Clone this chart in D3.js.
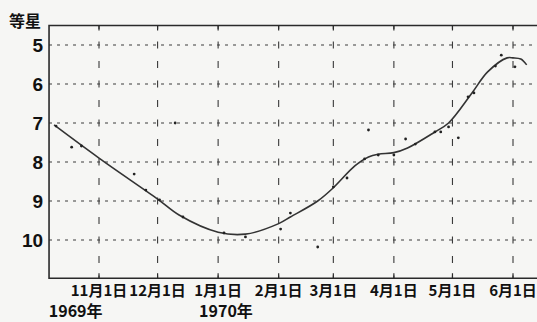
<!DOCTYPE html>
<html>
<head>
<meta charset="utf-8">
<script src="https://cdn.jsdelivr.net/npm/d3@7"></script>
<style>
  body { margin: 0; background: #f6f6f4; }
  svg { display: block; }
  .tickLabel { font-family: "Noto Sans CJK JP", sans-serif; font-weight: bold; font-size: 15px; fill: #111; }
  .magLabel { font-family: "Liberation Sans", Arial, sans-serif; font-weight: bold; font-size: 19px; fill: #111; }
</style>
</head>
<body>
<div id="chart"></div>
<script>
// month ticks on the date axis
const monthTicks = ["1969-11-01", "1969-12-01", "1970-01-01", "1970-02-01", "1970-03-01", "1970-04-01", "1970-05-01", "1970-06-01"];
const monthLabels = ["11月1日", "12月1日", "1月1日", "2月1日", "3月1日", "4月1日", "5月1日", "6月1日"];
const yearDates = ["1969-10-16", "1970-01-01"];
const yearLabels = ["1969年", "1970年"];
const magTicks = [5, 6, 7, 8, 9, 10];

// smoothed light curve (magnitude)
const curveDates = ["1969-10-09", "1969-11-01", "1969-12-01", "1969-12-12", "1970-01-01", "1970-01-15", "1970-02-01",
    "1970-02-07", "1970-02-21", "1970-03-01", "1970-03-12", "1970-03-19", "1970-03-24", "1970-04-01", "1970-04-08",
    "1970-04-22", "1970-04-29", "1970-05-11", "1970-05-19", "1970-05-29", "1970-06-01", "1970-06-05", "1970-06-08"];
const curveMags = [7.05, 7.9, 8.95, 9.36, 9.8, 9.85, 9.58,
    9.41, 9.0, 8.66, 8.1, 7.87, 7.8, 7.76, 7.64,
    7.23, 7.0, 6.23, 5.69, 5.33, 5.33, 5.36, 5.51];

// individual observations
const obsDates = ["1969-10-10", "1969-10-18", "1969-10-23", "1969-11-19", "1969-11-25", "1969-12-02", "1969-12-10",
    "1969-12-14", "1970-01-04", "1970-01-15", "1970-02-02", "1970-02-07", "1970-02-21", "1970-03-01", "1970-03-08",
    "1970-03-17", "1970-03-19", "1970-03-24", "1970-04-01", "1970-04-07", "1970-04-12", "1970-04-22", "1970-04-25",
    "1970-04-29", "1970-05-04", "1970-05-09", "1970-05-12", "1970-05-23", "1970-05-26", "1970-06-02"];
const obsMags = [7.08, 7.62, 7.59, 8.31, 8.72, 8.97, 7.0,
    9.41, 9.82, 9.92, 9.72, 9.31, 10.18, 8.64, 8.41,
    7.92, 7.18, 7.82, 7.82, 7.41, 7.54, 7.23, 7.23,
    7.1, 7.38, 6.33, 6.23, 5.54, 5.26, 5.56];

const parse = d3.timeParse("%Y-%m-%d");
const width = 537, height = 322;

const svg = d3.select("#chart").append("svg")
    .attr("width", width)
    .attr("height", height);

// scales anchored on the grid lines
const x = d3.scaleTime()
    .domain([parse(monthTicks[0]), parse(monthTicks[monthTicks.length - 1])])
    .range([99, 513]);
const y = d3.scaleLinear()
    .domain([5, 10])
    .range([45, 240]);

const plotLeft = x(d3.timeHour.offset(parse(monthTicks[0]), -614));
const plotRight = width;
const plotTop = y(4.5), plotBottom = y(10.98);

const ink = "#2a2a2a";

// horizontal dashed grid
svg.append("g").selectAll("line").data(magTicks).enter().append("line")
    .attr("x1", plotLeft).attr("x2", plotRight)
    .attr("y1", d => y(d)).attr("y2", d => y(d))
    .attr("stroke", "#3a3a3a")
    .attr("stroke-width", 1.1)
    .attr("stroke-dasharray", "3,5");

// vertical dashed grid, dashes centred on the crossings
const period = (y(6) - y(5)) / 2;
const dash = 7;
const firstDash = y(5) - dash / 2 - plotTop;
svg.append("g").selectAll("line").data(monthTicks).enter().append("line")
    .attr("x1", d => x(parse(d))).attr("x2", d => x(parse(d)))
    .attr("y1", plotTop).attr("y2", plotBottom)
    .attr("stroke", "#3a3a3a")
    .attr("stroke-width", 1.1)
    .attr("stroke-dasharray", dash + "," + (period - dash))
    .attr("stroke-dashoffset", period - (firstDash % period));

// small tick marks at top and bottom
const tickG = svg.append("g");
tickG.selectAll("line.top").data(monthTicks).enter().append("line")
    .attr("class", "top")
    .attr("x1", d => x(parse(d))).attr("x2", d => x(parse(d)))
    .attr("y1", plotTop).attr("y2", plotTop + 5)
    .attr("stroke", ink).attr("stroke-width", 1.2);
tickG.selectAll("line.bot").data(monthTicks).enter().append("line")
    .attr("class", "bot")
    .attr("x1", d => x(parse(d))).attr("x2", d => x(parse(d)))
    .attr("y1", plotBottom - 5).attr("y2", plotBottom)
    .attr("stroke", ink).attr("stroke-width", 1.2);

// frame: top, left, bottom
svg.append("path")
    .attr("d", `M${plotRight},${plotTop}H${plotLeft}V${plotBottom}H${plotRight}`)
    .attr("fill", "none")
    .attr("stroke", ink)
    .attr("stroke-width", 1.6);

// smoothed curve
const curve = curveDates.map((d, i) => ({date: parse(d), mag: curveMags[i]}));
const line = d3.line()
    .x(d => x(d.date))
    .y(d => y(d.mag))
    .curve(d3.curveCatmullRom.alpha(0.5));
svg.append("path")
    .datum(curve)
    .attr("d", line)
    .attr("fill", "none")
    .attr("stroke", "#333")
    .attr("stroke-width", 1.6);

// observation dots
const obs = obsDates.map((d, i) => ({date: parse(d), mag: obsMags[i]}));
svg.append("g").selectAll("circle").data(obs).enter().append("circle")
    .attr("cx", d => x(d.date))
    .attr("cy", d => y(d.mag))
    .attr("r", 1.4)
    .attr("fill", "#222");

// magnitude labels
svg.append("g").selectAll("text").data(magTicks).enter().append("text")
    .attr("x", plotLeft - 6)
    .attr("y", d => y(d) + 7)
    .attr("text-anchor", "end")
    .classed("magLabel", true)
    .text(d => d);

svg.append("text")
    .attr("x", 9)
    .attr("y", 27)
    .classed("tickLabel", true)
    .style("font-size", "16px")
    .text("等星");

// date labels
svg.append("g").selectAll("text").data(monthTicks).enter().append("text")
    .attr("x", d => x(parse(d)))
    .attr("y", 296)
    .attr("text-anchor", "middle")
    .classed("tickLabel", true)
    .text((d, i) => monthLabels[i]);

svg.append("g").selectAll("text").data(yearDates).enter().append("text")
    .attr("x", d => x(parse(d)) - 19)
    .attr("y", 317)
    .classed("tickLabel", true)
    .style("font-size", "16px")
    .text((d, i) => yearLabels[i]);
</script>
</body>
</html>
